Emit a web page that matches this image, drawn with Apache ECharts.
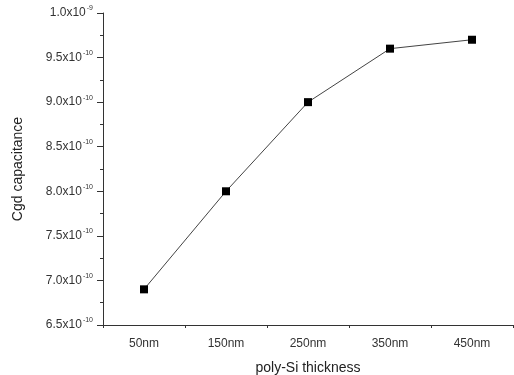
<!DOCTYPE html>
<html>
<head>
<meta charset="utf-8">
<script src="https://cdn.jsdelivr.net/npm/echarts@6/dist/echarts.min.js"></script>
<style>
  html, body { margin: 0; padding: 0; background: #fff; }
  #chart { width: 514px; height: 375px; }
</style>
</head>
<body>
<div id="chart"></div>
<script>
// values in units of 1e-10
var thickness = ['50nm', '150nm', '250nm', '350nm', '450nm']
var cgd = [6.9, 8.0, 9.0, 9.6, 9.7]
var yTicks = [6.5, 7.0, 7.5, 8.0, 8.5, 9.0, 9.5, 10.0]

var myChart = echarts.init(document.getElementById('chart'))
var font = 'Liberation Sans, Arial, sans-serif'

var yLabel = function (v) {
  if (Math.abs(v - 10) < 1e-6) return '{m|1.0x10}{s|-9}'
  return '{m|' + v.toFixed(1) + 'x10}{s|-10}'
}

var option = {
  animation: false,
  backgroundColor: '#fff',
  grid: { left: 103, right: 1, top: 13, bottom: 50, outerBoundsMode: 'none', containLabel: false },
  xAxis: [
    {
      type: 'category',
      position: 'bottom',
      data: thickness,
      boundaryGap: true,
      name: 'poly-Si thickness',
      nameLocation: 'middle',
      nameGap: 36,
      nameTextStyle: { fontFamily: font, fontSize: 14, color: '#222' },
      axisLine: { lineStyle: { color: '#333', width: 1 } },
      axisTick: { alignWithLabel: true, length: 6, lineStyle: { color: '#333' } },
      axisLabel: { fontFamily: font, fontSize: 12, color: '#333', margin: 13 },
      splitLine: { show: false }
    },
    {
      type: 'value',
      position: 'bottom',
      min: 0,
      max: 500,
      interval: 100,
      axisLine: { show: false },
      axisTick: { show: true, length: 3, lineStyle: { color: '#333' } },
      axisLabel: { show: false },
      splitLine: { show: false }
    }
  ],
  yAxis: {
    type: 'value',
    min: yTicks[0],
    max: yTicks[yTicks.length - 1],
    interval: 0.5,
    name: 'Cgd capacitance',
    nameLocation: 'middle',
    nameGap: 78,
    nameTextStyle: { fontFamily: font, fontSize: 14, color: '#222' },
    axisLine: { show: true, lineStyle: { color: '#333', width: 1 } },
    axisTick: { show: true, length: 6, lineStyle: { color: '#333' } },
    minorTick: { show: true, splitNumber: 2, length: 3, lineStyle: { color: '#333' } },
    axisLabel: {
      margin: 10,
      formatter: yLabel,
      rich: {
        m: { fontFamily: font, fontSize: 12, color: '#333', lineHeight: 16 },
        s: { fontFamily: font, fontSize: 7, color: '#333', lineHeight: 16, verticalAlign: 'top', padding: [0, 0, 9, 1] }
      }
    },
    splitLine: { show: false }
  },
  series: [
    {
      type: 'line',
      data: cgd,
      xAxisIndex: 0,
      symbol: 'rect',
      symbolSize: 8,
      itemStyle: { color: '#000' },
      lineStyle: { color: '#444', width: 1 }
    }
  ]
}
myChart.setOption(option)
</script>
</body>
</html>
